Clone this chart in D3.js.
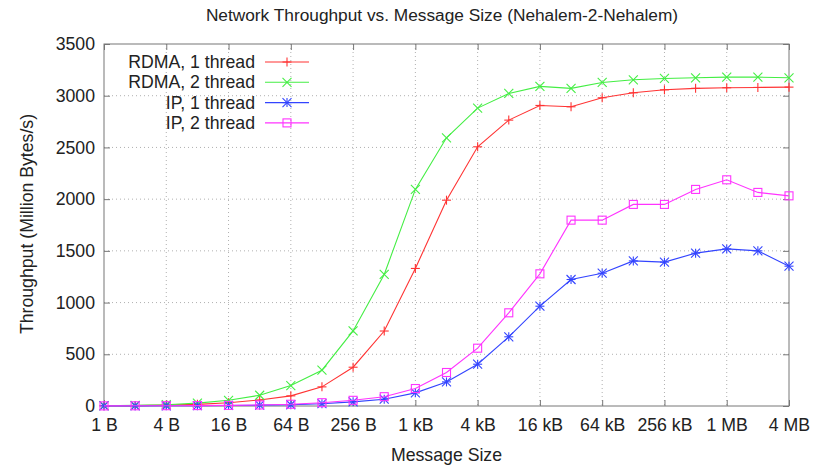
<!DOCTYPE html>
<html>
<head>
<meta charset="utf-8">
<script src="https://cdn.jsdelivr.net/npm/d3@7/dist/d3.min.js"></script>
<style>
  html, body { margin: 0; padding: 0; background: #fff; }
  svg { display: block; font-family: "Liberation Sans", Arial, sans-serif; }
</style>
</head>
<body>
<svg id="chart" width="825" height="468"></svg>
<script>
// Message sizes in bytes: 1 B ... 4 MB (powers of two)
const sizes = d3.range(0, 23).map(k => Math.pow(2, k));

// Throughput in million bytes per second
const rdma1 = [2, 4, 8, 16, 32, 58, 98, 185, 375, 725, 1330, 1990, 2506, 2764, 2906, 2893, 2980, 3028, 3057, 3071, 3077, 3080, 3083];
const rdma2 = [3, 6, 12, 28, 55, 104, 198, 346, 726, 1272, 2094, 2593, 2880, 3022, 3090, 3071, 3128, 3154, 3167, 3173, 3180, 3180, 3173];
const ip1   = [1, 1, 2, 3, 5, 8, 12, 22, 40, 66, 127, 233, 404, 669, 965, 1223, 1284, 1403, 1391, 1478, 1519, 1500, 1352];
const ip2   = [1, 2, 3, 4, 6, 10, 17, 32, 55, 90, 169, 324, 559, 901, 1278, 1797, 1797, 1949, 1949, 2094, 2187, 2065, 2032];

const seriesNames = ["RDMA, 1 thread", "RDMA, 2 thread", "IP, 1 thread", "IP, 2 thread"];
const seriesValues = [rdma1, rdma2, ip1, ip2];
const seriesColors = ["#ff3333", "#44ee44", "#3344ff", "#ff33ff"];
const seriesMarkers = ["plus", "cross", "star", "square"];

const xTickValues = d3.range(0, 23, 2).map(k => Math.pow(2, k));
const xTickLabels = ["1 B", "4 B", "16 B", "64 B", "256 B", "1 kB", "4 kB", "16 kB", "64 kB", "256 kB", "1 MB", "4 MB"];
const yTickValues = [0, 500, 1000, 1500, 2000, 2500, 3000, 3500];

const plotL = 104, plotR = 789, plotT = 44, plotB = 406;
const svg = d3.select("#chart");

const x = d3.scaleLog().base(2).domain([1, Math.pow(2, 22)]).range([plotL, plotR]);
const y = d3.scaleLinear().domain([0, 3500]).range([plotB, plotT]);

const textColor = "#222";
const borderColor = "#777";
const fontSize = 17.7;

// Grid lines (dotted)
const grid = svg.append("g").attr("stroke", "#b0b0b0").attr("stroke-width", 1).attr("stroke-dasharray", "1,3");
xTickValues.slice(1, -1).forEach(v => {
  grid.append("line").attr("x1", x(v)).attr("x2", x(v)).attr("y1", plotT).attr("y2", plotB);
});
yTickValues.slice(1, -1).forEach(v => {
  grid.append("line").attr("x1", plotL).attr("x2", plotR).attr("y1", y(v)).attr("y2", y(v));
});

// Axes: inward ticks on all four sides
const tickLen = 6;
const axB = svg.append("g").attr("transform", `translate(0,${plotB})`)
  .call(d3.axisBottom(x).tickValues(xTickValues).tickSizeInner(-tickLen).tickSizeOuter(0)
    .tickPadding(12).tickFormat((d, i) => xTickLabels[i]));
const axT = svg.append("g").attr("transform", `translate(0,${plotT})`)
  .call(d3.axisTop(x).tickValues(xTickValues).tickSizeInner(-tickLen).tickSizeOuter(0).tickFormat(""));
const axL = svg.append("g").attr("transform", `translate(${plotL},0)`)
  .call(d3.axisLeft(y).tickValues(yTickValues).tickSizeInner(-tickLen).tickSizeOuter(0)
    .tickPadding(9).tickFormat(d3.format("d")));
const axR = svg.append("g").attr("transform", `translate(${plotR},0)`)
  .call(d3.axisRight(y).tickValues(yTickValues).tickSizeInner(-tickLen).tickSizeOuter(0).tickFormat(""));

[axB, axT, axL, axR].forEach(a => {
  a.select(".domain").remove();
  a.selectAll(".tick line").attr("stroke", borderColor);
  a.selectAll(".tick text").attr("fill", textColor).style("font-size", fontSize + "px")
    .style("font-family", "'Liberation Sans', Arial, sans-serif");
});

// Plot border
svg.append("rect").attr("x", plotL).attr("y", plotT).attr("width", plotR - plotL).attr("height", plotB - plotT)
  .attr("fill", "none").attr("stroke", borderColor).attr("stroke-width", 1);

// Marker drawing
function drawMarker(g, type, cx, cy, color) {
  const s = 4.5;
  const m = g.append("g").attr("transform", `translate(${cx},${cy})`)
    .attr("stroke", color).attr("stroke-width", 1.1).attr("fill", "none");
  if (type === "plus" || type === "star") {
    m.append("line").attr("x1", -s).attr("x2", s).attr("y1", 0).attr("y2", 0);
    m.append("line").attr("x1", 0).attr("x2", 0).attr("y1", -s).attr("y2", s);
  }
  if (type === "cross" || type === "star") {
    m.append("line").attr("x1", -s).attr("x2", s).attr("y1", -s).attr("y2", s);
    m.append("line").attr("x1", -s).attr("x2", s).attr("y1", s).attr("y2", -s);
  }
  if (type === "square") {
    m.append("rect").attr("x", -s + 0.5).attr("y", -s + 0.5).attr("width", 2 * s - 1).attr("height", 2 * s - 1);
  }
}

// Series lines and markers
const line = d3.line().x(d => x(d[0])).y(d => y(d[1]));
seriesValues.forEach((vals, i) => {
  const pts = sizes.map((s, j) => [s, vals[j]]);
  const g = svg.append("g");
  g.append("path").datum(pts).attr("d", line).attr("fill", "none")
    .attr("stroke", seriesColors[i]).attr("stroke-width", 1.1);
  pts.forEach(p => drawMarker(g, seriesMarkers[i], x(p[0]), y(p[1]), seriesColors[i]));
});

// Legend
const legend = svg.append("g");
seriesNames.forEach((name, i) => {
  const ly = 62 + i * 20.3;
  legend.append("text").attr("x", 255).attr("y", ly).attr("dy", "0.35em")
    .attr("text-anchor", "end").attr("fill", textColor).style("font-size", fontSize + "px").text(name);
  legend.append("line").attr("x1", 265).attr("x2", 309).attr("y1", ly).attr("y2", ly)
    .attr("stroke", seriesColors[i]).attr("stroke-width", 1.1);
  drawMarker(legend, seriesMarkers[i], 287, ly, seriesColors[i]);
});

// Titles
svg.append("text").attr("x", 442).attr("y", 15).attr("dy", "0.35em").attr("text-anchor", "middle")
  .attr("fill", textColor).style("font-size", "17.3px")
  .text("Network Throughput vs. Message Size (Nehalem-2-Nehalem)");
svg.append("text").attr("x", 446.5).attr("y", 455).attr("dy", "0.35em").attr("text-anchor", "middle")
  .attr("fill", textColor).style("font-size", fontSize + "px").text("Message Size");
svg.append("text").attr("transform", `translate(27,224) rotate(-90)`).attr("dy", "0.35em")
  .attr("text-anchor", "middle").attr("fill", textColor).style("font-size", fontSize + "px")
  .text("Throughput (Million Bytes/s)");
</script>
</body>
</html>
